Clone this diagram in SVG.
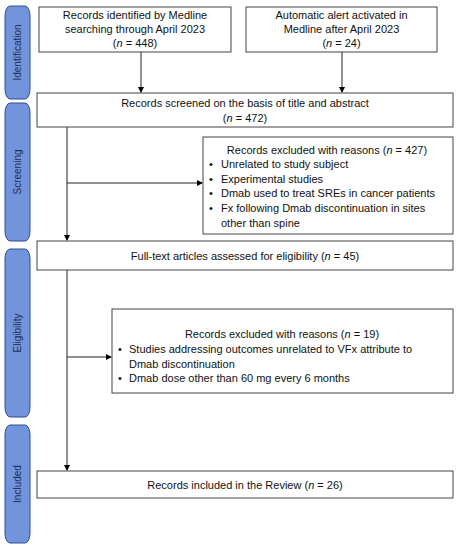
<svg xmlns="http://www.w3.org/2000/svg" width="460" height="550" viewBox="0 0 460 550">
<defs>
<marker id="ah" markerWidth="6" markerHeight="6" refX="5" refY="3" orient="auto" markerUnits="userSpaceOnUse">
<path d="M0,0 L6,3 L0,6 z" fill="#000"/>
</marker>
<style>
.box{fill:#fff;stroke:#444;stroke-width:1}
.bar{fill:#7294dc;stroke:#2f4f8f;stroke-width:1}
.t{font-family:"Liberation Sans",Arial,sans-serif;font-size:11px;fill:#111}
.c{text-anchor:middle}
.s{font-family:"Liberation Sans",Arial,sans-serif;font-size:10px;fill:#1c2d55;text-anchor:middle}
.ln{stroke:#222;stroke-width:1;fill:none}
</style>
</defs>
<rect width="460" height="550" fill="#fff"/>
<g id="stages">
<rect class="bar" x="5" y="6" width="25" height="93" rx="5" ry="10"/>
<text class="s" transform="translate(21,52.5) rotate(-90)">Identification</text>
<rect class="bar" x="5" y="103" width="25" height="138" rx="5" ry="10"/>
<text class="s" transform="translate(21,172) rotate(-90)">Screening</text>
<rect class="bar" x="5" y="249" width="25" height="168" rx="5" ry="10"/>
<text class="s" transform="translate(21,333) rotate(-90)">Eligibility</text>
<rect class="bar" x="5" y="425" width="25" height="118" rx="5" ry="10"/>
<text class="s" transform="translate(21,484) rotate(-90)">Included</text>
</g>
<g id="connectors">
<line class="ln" x1="141" y1="52" x2="141" y2="92" marker-end="url(#ah)"/>
<line class="ln" x1="342" y1="52" x2="342" y2="92" marker-end="url(#ah)"/>
<line class="ln" x1="67" y1="127" x2="67" y2="240" marker-end="url(#ah)"/>
<line class="ln" x1="67" y1="183" x2="202" y2="183" marker-end="url(#ah)"/>
<line class="ln" x1="67" y1="270" x2="67" y2="470" marker-end="url(#ah)"/>
<line class="ln" x1="67" y1="357" x2="111" y2="357" marker-end="url(#ah)"/>
</g>
<g id="n1">
<rect class="box" x="39" y="7" width="192" height="45"/>
<text class="t c" x="135" y="19">Records identified by Medline</text>
<text class="t c" x="135" y="33">searching through April 2023</text>
<text class="t c" x="135" y="47">(<tspan font-style="italic">n</tspan> = 448)</text>
</g>
<g id="n2">
<rect class="box" x="246" y="7" width="191" height="45"/>
<text class="t c" x="341.5" y="19">Automatic alert activated in</text>
<text class="t c" x="341.5" y="33">Medline after April 2023</text>
<text class="t c" x="341.5" y="47">(<tspan font-style="italic">n</tspan> = 24)</text>
</g>
<g id="n3">
<rect class="box" x="37" y="93" width="416" height="34"/>
<text class="t c" x="245" y="107">Records screened on the basis of title and abstract</text>
<text class="t c" x="245" y="122">(<tspan font-style="italic">n</tspan> = 472)</text>
</g>
<g id="n4">
<rect class="box" x="203" y="137" width="250" height="97"/>
<text class="t c" x="327" y="154">Records excluded  with reasons (<tspan font-style="italic">n</tspan> = 427)</text>
<text class="t" x="209" y="168">•</text><text class="t" x="221" y="168">Unrelated to study subject</text>
<text class="t" x="209" y="183">•</text><text class="t" x="221" y="183">Experimental studies</text>
<text class="t" x="209" y="197">•</text><text class="t" x="221" y="197">Dmab used to treat SREs in cancer patients</text>
<text class="t" x="209" y="212">•</text><text class="t" x="221" y="212">Fx following Dmab discontinuation in sites</text>
<text class="t" x="221" y="227">other than spine</text>
</g>
<g id="n5">
<rect class="box" x="37" y="241" width="416" height="29"/>
<text class="t c" x="245" y="260">Full-text articles assessed for eligibility (<tspan font-style="italic">n</tspan> = 45)</text>
</g>
<g id="n6">
<rect class="box" x="112" y="309" width="341" height="84"/>
<text class="t c" x="282" y="338">Records excluded with reasons (<tspan font-style="italic">n</tspan> = 19)</text>
<text class="t" x="118" y="353">•</text><text class="t" x="129" y="353">Studies addressing outcomes unrelated to VFx attribute to</text>
<text class="t" x="129" y="368">Dmab discontinuation</text>
<text class="t" x="118" y="382">•</text><text class="t" x="129" y="382">Dmab dose other than 60 mg every 6 months</text>
</g>
<g id="n7">
<rect class="box" x="37" y="471" width="416" height="27"/>
<text class="t c" x="245" y="489">Records included in the Review (<tspan font-style="italic">n</tspan> = 26)</text>
</g>
</svg>
